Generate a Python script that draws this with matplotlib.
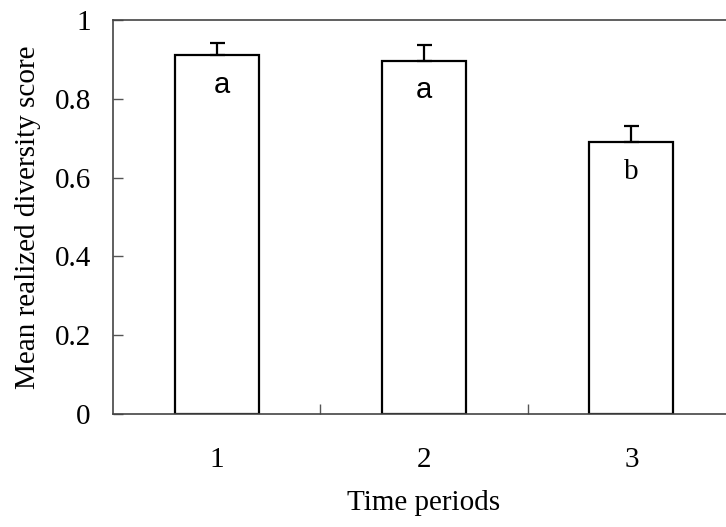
import matplotlib
matplotlib.use("Agg")
import matplotlib.pyplot as plt

periods = ["1", "2", "3"]
means = [0.911, 0.897, 0.690]
errors = [0.030, 0.040, 0.041]
letters = ["a", "a", "b"]
yticks = [0, 0.2, 0.4, 0.6, 0.8, 1.0]
ytick_labels = ["0", "0.2", "0.4", "0.6", "0.8", "1"]

W, H = 726, 527
fig = plt.figure(figsize=(W / 100, H / 100), dpi=100)
left, right, top, bottom = 113, 735, 20, 414
ax = fig.add_axes([left / W, (H - bottom) / H, (right - left) / W, (bottom - top) / H])

serif = ["Liberation Serif", "DejaVu Serif"]
fs = 21

x = [1, 2, 3]
ax.bar(x, means, width=0.405, color="white", edgecolor="black", linewidth=1.6, zorder=2)
ax.errorbar(x, means, yerr=[[0] * 3, errors], fmt="none", ecolor="black",
            elinewidth=1.6, capsize=5.4, capthick=1.6, zorder=3)

letter_dx = [0.025, 0.0, 0.0]
for xi, m, l, dx in zip(x, means, letters, letter_dx):
    fam = ["Liberation Sans"] if l == "a" else serif
    ax.text(xi + dx, m - 0.075, l, ha="center", va="center",
            fontsize=fs, family=fam, zorder=4)

ax.set_xlim(0.5, 3.5)
ax.set_ylim(0, 1)

ax.set_xticks([1.5, 2.5])
ax.set_xticklabels([])
ax.set_xticks(x, minor=True)
ax.set_xticklabels(periods, minor=True)
ax.tick_params(axis="x", which="major", direction="in", length=7, width=1, color="#555555")
ax.tick_params(axis="x", which="minor", length=0, pad=24, labelsize=fs)
ax.set_yticks(yticks)
ax.set_yticklabels(ytick_labels)
ax.tick_params(axis="y", direction="in", length=7, width=1, color="#555555", pad=16, labelsize=fs)
for lab in ax.get_xticklabels(minor=True) + ax.get_yticklabels():
    lab.set_family(serif)

for s in ["left", "bottom", "top", "right"]:
    ax.spines[s].set_color("#444444")
    ax.spines[s].set_linewidth(1.2)

ax.set_xlabel("Time periods", fontsize=fs, family=serif, labelpad=12)
ax.set_ylabel("Mean realized diversity score", fontsize=fs, family=serif, labelpad=10)

fig.savefig("out.png", dpi=100)
